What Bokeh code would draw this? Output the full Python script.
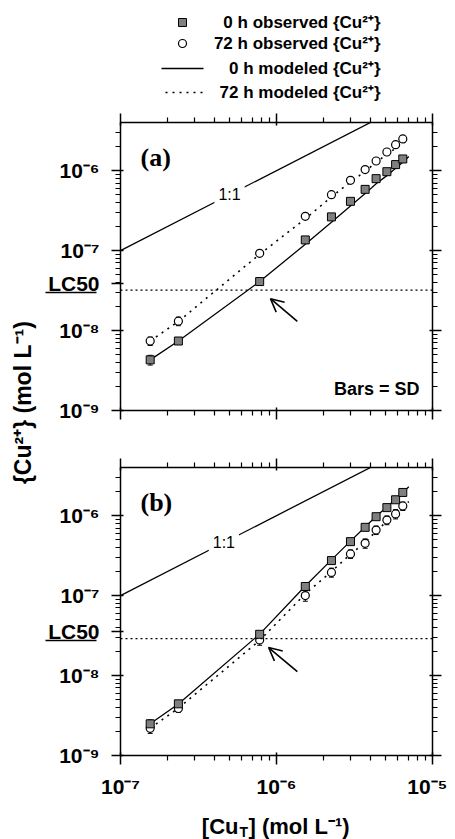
import math
from bokeh.plotting import figure
from bokeh.models import (LogAxis, FixedTicker, Label, Arrow, OpenHead, Span, Whisker,
                          TeeHead, ColumnDataSource, Range1d)
from bokeh.layouts import row, column
from bokeh.core.properties import value
from bokeh.embed import file_html
from bokeh.resources import INLINE

SANS = "Liberation Sans"
SERIF = "Liberation Serif"

# ---------------- data ----------------
cu_total = [1.55e-7, 2.35e-7, 7.8e-7, 1.53e-6, 2.25e-6, 2.98e-6, 3.7e-6, 4.35e-6, 5.1e-6, 5.8e-6, 6.45e-6]
cu_total_model = [1.55e-7, 2.35e-7, 7.8e-7, 1.53e-6, 2.25e-6, 2.98e-6, 3.7e-6, 4.35e-6, 5.1e-6, 5.8e-6, 6.45e-6, 7.05e-6]

# panel (a)
obs0_a = [4.3e-9, 7.4e-9, 4.1e-8, 1.36e-7, 2.64e-7, 4.13e-7, 5.83e-7, 7.94e-7, 9.7e-7, 1.19e-6, 1.40e-6]
sd0_a = [0.6e-9, 0.3e-9, 1.5e-9, 4e-9, 8e-9, 1.2e-8, 1.7e-8, 2.4e-8, 3e-8, 3.5e-8, 4e-8]
obs72_a = [7.4e-9, 1.31e-8, 9.25e-8, 2.68e-7, 5.0e-7, 7.56e-7, 1.03e-6, 1.32e-6, 1.71e-6, 2.11e-6, 2.49e-6]
sd72_a = [0.9e-9, 1.6e-9, 3e-9, 8e-9, 1.5e-8, 2.2e-8, 3e-8, 4e-8, 5e-8, 6e-8, 7e-8]
mod0_a = [4.3e-9, 7.4e-9, 4.1e-8, 1.2e-7, 2.26e-7, 3.6e-7, 5.16e-7, 6.86e-7, 8.66e-7, 1.07e-6, 1.27e-6, 1.5e-6]
mod72_a = [7.4e-9, 1.3e-8, 9.0e-8, 2.5e-7, 4.7e-7, 7.2e-7, 9.8e-7, 1.27e-6, 1.6e-6, 1.9e-6, 2.2e-6, 2.45e-6]
lc50_a = 3.2e-8

# panel (b)
obs0_b = [2.49e-9, 4.43e-9, 3.28e-8, 1.30e-7, 2.74e-7, 4.73e-7, 7.14e-7, 9.7e-7, 1.26e-6, 1.58e-6, 1.95e-6]
sd0_b = [0.3e-9, 0.3e-9, 2e-9, 5e-9, 8e-9, 1.2e-8, 1.8e-8, 2.5e-8, 3e-8, 4e-8, 5e-8]
obs72_b = [2.19e-9, 3.87e-9, 2.79e-8, 1.0e-7, 1.95e-7, 3.32e-7, 4.51e-7, 6.6e-7, 8.8e-7, 1.05e-6, 1.32e-6]
sd72_b = [0.3e-9, 0.4e-9, 4e-9, 1.5e-8, 2.5e-8, 4e-8, 6e-8, 8e-8, 1.1e-7, 1.4e-7, 1.6e-7]
mod0_b = [2.5e-9, 4.4e-9, 3.3e-8, 1.32e-7, 2.8e-7, 4.8e-7, 7.2e-7, 9.8e-7, 1.28e-6, 1.6e-6, 1.95e-6, 2.3e-6]
mod72_b = [2.2e-9, 3.9e-9, 2.75e-8, 1.05e-7, 2.0e-7, 3.3e-7, 4.6e-7, 6.4e-7, 8.5e-7, 1.05e-6, 1.3e-6, 1.5e-6]
lc50_b = 2.9e-8

one_to_one = [1e-7, 1e-5]
one_to_one_label_a = 5e-7
one_to_one_label_b = 4.6e-7

# arrows (tail -> tip) pointing at the LC50 crossing
arrow_a = dict(x_start=1.36e-6, y_start=1.3e-8, x_end=9.15e-7, y_end=2.5e-8)
arrow_b = dict(x_start=1.36e-6, y_start=1.12e-8, x_end=8.9e-7, y_end=2.24e-8)

x_ticks = [1e-7, 1e-6, 1e-5]
x_tick_labels = ["10⁻⁷", "10⁻⁶", "10⁻⁵"]
y_ticks = [1e-9, 1e-8, 1e-7, 1e-6]
y_tick_labels = ["10⁻⁹", "10⁻⁸", "10⁻⁷", "10⁻⁶"]
x_minor = [m * 10.0 ** e for e in (-7, -6) for m in range(2, 10)]
y_minor = [m * 10.0 ** e for e in (-9, -8, -7, -6) for m in range(2, 10) if m * 10.0 ** e < 4e-6]
x_lim = (1e-7, 1e-5)
y_lim = (1e-9, 4e-6)

legend_labels = ["0 h observed {Cu²⁺}", "72 h observed {Cu²⁺}",
                 "0 h modeled {Cu²⁺}", "72 h modeled {Cu²⁺}"]

# ---------------- layout constants ----------------
YFIG_W = 38
BORDER_L = 82
BORDER_R = 15
FRAME_W = 312
FRAME_H = 288
W = BORDER_L + FRAME_W + BORDER_R
TOTAL_W = YFIG_W + W
LEG_H = 102
XT_H = 39
TICK_FONT = "21px"
LC50_LIFT = 10 ** 0.085     # label sits slightly above the LC50 line
LC50_UNDER = 10 ** -0.025   # underline just below it
LC50_TEXT_W = 51            # width of the "LC50" label, px


def style_axis(ax, ticks, minor, labels, show, standoff):
    ax.ticker = FixedTicker(ticks=ticks, minor_ticks=minor)
    ax.major_label_overrides = dict(zip(ticks, labels))
    ax.axis_line_width = 1.5
    ax.axis_line_color = "black"
    ax.major_tick_line_width = 1.5
    ax.minor_tick_line_width = 1.2
    ax.major_tick_line_color = "black"
    ax.minor_tick_line_color = "black"
    ax.major_tick_out = 9
    ax.major_tick_in = 3
    ax.minor_tick_out = 5
    ax.minor_tick_in = 0
    ax.major_label_text_font = SANS
    ax.major_label_text_font_style = "bold"
    if show:
        ax.major_label_text_color = "black"
        ax.major_label_text_font_size = TICK_FONT
        ax.major_label_standoff = standoff
    else:
        ax.major_label_text_color = None
        ax.major_label_text_font_size = "1px"
        ax.major_label_standoff = 0


def make_panel(tag, obs0, sd0, obs72, sd72, mod0, mod72, lc50, arrow, lbl11,
               top, bottom, show_x):
    p = figure(width=W, height=top + FRAME_H + bottom,
               x_axis_type="log", y_axis_type="log",
               x_range=Range1d(*x_lim), y_range=Range1d(*y_lim),
               output_backend="svg", toolbar_location=None,
               min_border_left=BORDER_L, min_border_right=BORDER_R,
               min_border_top=top, min_border_bottom=bottom)
    p.grid.visible = False
    p.outline_line_color = None
    p.background_fill_color = "white"
    p.border_fill_color = "white"

    style_axis(p.xaxis[0], x_ticks, x_minor, x_tick_labels, show_x, 10)
    # left axis: decades plus the LC50 label
    lc50_pos = lc50 * LC50_LIFT
    style_axis(p.yaxis[0], y_ticks + [lc50_pos], y_minor, y_tick_labels + ["LC50"], True, 12)
    # underline of the LC50 label (an inward tick of an extra left axis)
    ax_ul = LogAxis(ticker=FixedTicker(ticks=[lc50 * LC50_UNDER], minor_ticks=[]),
                    axis_line_color=None, major_tick_out=0, major_tick_in=LC50_TEXT_W,
                    major_tick_line_width=1.6, major_tick_line_color="black",
                    minor_tick_out=0, minor_tick_in=0,
                    major_label_text_color=None, major_label_text_font_size="1px",
                    major_label_standoff=0)
    p.add_layout(ax_ul, "left")

    ax_top = LogAxis()
    style_axis(ax_top, x_ticks, x_minor, x_tick_labels, False, 0)
    p.add_layout(ax_top, "above")
    ax_right = LogAxis()
    style_axis(ax_right, y_ticks, y_minor, y_tick_labels, False, 0)
    p.add_layout(ax_right, "right")

    # 1:1 line with label
    p.line(one_to_one, one_to_one, line_color="black", line_width=1.3)
    p.add_layout(Label(x=lbl11, y=lbl11, text="1:1", text_align="center",
                       text_baseline="middle", text_font=SANS, text_font_size="16px",
                       text_color="black", background_fill_color="white", padding=4))

    # LC50 level
    p.add_layout(Span(location=lc50, dimension="width", line_color="black",
                      line_width=1.2, line_dash="2 3"))

    # model lines
    p.line(cu_total_model, mod0, line_color="black", line_width=1.3)
    p.line(cu_total_model, mod72, line_color="black", line_width=1.6, line_dash="2 5")

    # error bars
    src0 = ColumnDataSource(dict(x=cu_total, lo=[o - s for o, s in zip(obs0, sd0)],
                                 hi=[o + s for o, s in zip(obs0, sd0)]))
    src72 = ColumnDataSource(dict(x=cu_total, lo=[o - s for o, s in zip(obs72, sd72)],
                                  hi=[o + s for o, s in zip(obs72, sd72)]))
    for s in (src0, src72):
        p.add_layout(Whisker(source=s, base="x", lower="lo", upper="hi",
                             dimension="height", line_color="black", line_width=1,
                             upper_head=TeeHead(size=5, line_width=1),
                             lower_head=TeeHead(size=5, line_width=1)))

    p.scatter(cu_total, obs72, marker="circle", size=8, fill_color="white",
              line_color="black", line_width=1.2)
    p.scatter(cu_total, obs0, marker="square", size=8, fill_color="#7f7f7f",
              line_color="black", line_width=1.0)

    p.add_layout(Arrow(end=OpenHead(size=13, line_width=1.6, line_color="black"),
                       line_color="black", line_width=1.6, **arrow))

    p.add_layout(Label(x=x_lim[0], y=y_lim[1], x_offset=20, y_offset=-35, text=tag,
                       text_align="left", text_baseline="middle", text_font=SERIF,
                       text_font_style="bold", text_font_size="26px", text_color="black"))
    return p


pa = make_panel("(a)", obs0_a, sd0_a, obs72_a, sd72_a, mod0_a, mod72_a, lc50_a,
                arrow_a, one_to_one_label_a, top=20, bottom=28, show_x=False)
pb = make_panel("(b)", obs0_b, sd0_b, obs72_b, sd72_b, mod0_b, mod72_b, lc50_b,
                arrow_b, one_to_one_label_b, top=29, bottom=45, show_x=True)

pa.add_layout(Label(x=x_lim[1], y=y_lim[0], x_offset=-13, y_offset=22, text="Bars = SD",
                    text_align="right", text_baseline="middle", text_font=SANS,
                    text_font_style="bold", text_font_size="18px", text_color="black"))


def blank_fig(w, h):
    f = figure(width=w, height=h, x_range=Range1d(0, w), y_range=Range1d(h, 0),
               output_backend="svg", toolbar_location=None, min_border=0,
               x_axis_location=None, y_axis_location=None)
    f.grid.visible = False
    f.outline_line_color = None
    f.background_fill_color = "white"
    f.border_fill_color = "white"
    return f


# ---------------- legend (its own strip above panel a) ----------------
leg = blank_fig(TOTAL_W, LEG_H)
leg_rows = [22, 43, 68, 92]
leg_marker_x = 182
leg_line_x = [161, 203]
leg_text_x = 380
leg.scatter([leg_marker_x], [leg_rows[0]], marker="square", size=8, fill_color="#7f7f7f",
            line_color="black", line_width=1.0)
leg.scatter([leg_marker_x], [leg_rows[1]], marker="circle", size=8, fill_color="white",
            line_color="black", line_width=1.2)
leg.line(leg_line_x, [leg_rows[2]] * 2, line_color="black", line_width=1.3)
leg.line([leg_line_x[0] + 4, leg_line_x[1]], [leg_rows[3]] * 2, line_color="black",
         line_width=1.6, line_dash="2 5")
leg.text(x=[leg_text_x] * 4, y=leg_rows, text=legend_labels, text_font=value(SANS),
         text_font_style="bold", text_font_size=value("17px"), text_align="right",
         text_baseline="middle", text_color="black")

# ---------------- x-axis title strip ----------------
xt = blank_fig(TOTAL_W, XT_H)
xt.text(x=[238], y=[26], text=["[Cu"], text_font=value(SANS), text_font_style="bold",
        text_font_size=value("22px"), text_align="right", text_baseline="middle",
        text_color="black")
xt.text(x=[239], y=[31], text=["T"], text_font=value(SANS), text_font_style="bold",
        text_font_size=value("14px"), text_align="left", text_baseline="middle",
        text_color="black")
xt.text(x=[248], y=[26], text=["] (mol L⁻¹)"], text_font=value(SANS), text_font_style="bold",
        text_font_size=value("22px"), text_align="left", text_baseline="middle",
        text_color="black")

# ---------------- y-axis title strip ----------------
total_h = pa.height + pb.height
yfig = figure(width=YFIG_W, height=total_h, x_range=Range1d(0, 1), y_range=Range1d(0, 1),
              output_backend="svg", toolbar_location=None, min_border=0,
              x_axis_location=None, y_axis_location=None)
yfig.grid.visible = False
yfig.outline_line_color = None
yfig.add_layout(Label(x=0.6, y=0.57, text="{Cu²⁺} (mol L⁻¹)", angle=math.pi / 2,
                      text_align="center", text_baseline="middle", text_font=SANS,
                      text_font_style="bold", text_font_size="23px", text_color="black"))

layout = column(leg, row(yfig, column(pa, pb)), xt)
open("out.html", "w").write(file_html(layout, INLINE))
